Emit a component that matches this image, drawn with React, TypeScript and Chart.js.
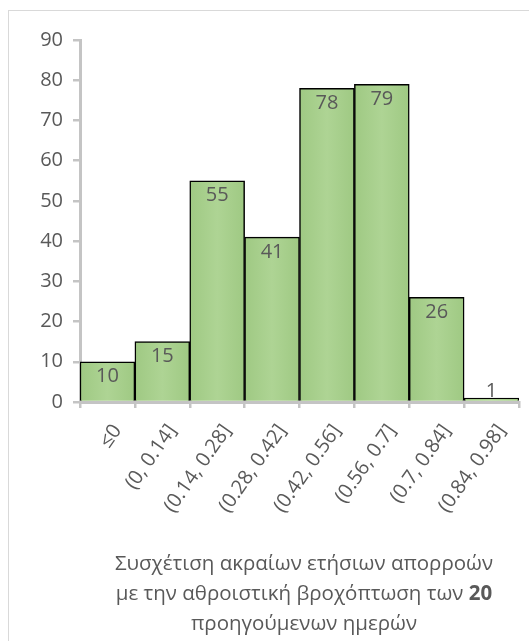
import React, { useEffect, useRef } from "react";
import { Chart, registerables } from "chart.js";

Chart.register(...registerables);

// Histogram classes of the correlation coefficient
const categories = [
  "≤0",
  "(0, 0.14]",
  "(0.14, 0.28]",
  "(0.28, 0.42]",
  "(0.42, 0.56]",
  "(0.56, 0.7]",
  "(0.7, 0.84]",
  "(0.84, 0.98]",
];

// Number of cases in each class
const counts = [10, 15, 55, 41, 78, 79, 26, 1];

const yMin = 0;
const yMax = 90;
const yStep = 10;

const FONT = "'Open Sans', 'Noto Sans', sans-serif";
const TEXT = "#595959";
const AXIS = "#c4c4c4";

// Value printed at the inside top of each bar
const valueLabels = {
  id: "valueLabels",
  afterDatasetsDraw(chart: Chart) {
    const ctx = chart.ctx;
    const meta = chart.getDatasetMeta(0);
    const base = chart.scales.y.getPixelForValue(0);
    ctx.save();
    ctx.font = `20px ${FONT}`;
    ctx.fillStyle = TEXT;
    ctx.textAlign = "center";
    ctx.textBaseline = "middle";
    meta.data.forEach((el: any, i: number) => {
      const y = Math.min(el.y + 15, base - 11);
      ctx.fillText(String(counts[i]), el.x, y);
    });
    ctx.restore();
  },
};

function barFill(c: any) {
  const chart = c.chart;
  const xs = chart.scales?.x;
  if (!xs || c.dataIndex === undefined) return "#a9d18e";
  const w = xs.width / categories.length;
  const cx = xs.getPixelForValue(c.dataIndex);
  if (!Number.isFinite(cx) || !Number.isFinite(w) || w <= 0) return "#a9d18e";
  const g = chart.ctx.createLinearGradient(cx - w / 2, 0, cx + w / 2, 0);
  g.addColorStop(0, "#9fc983");
  g.addColorStop(0.5, "#aed494");
  g.addColorStop(1, "#9fc983");
  return g;
}

export default function App() {
  const ref = useRef<HTMLCanvasElement>(null);

  useEffect(() => {
    if (!ref.current) return;
    const chart = new Chart(ref.current, {
      type: "bar",
      data: {
        labels: categories,
        datasets: [
          {
            data: counts,
            backgroundColor: barFill,
            borderColor: "#000000",
            borderWidth: 1.5,
            borderSkipped: "bottom",
            barPercentage: 1,
            categoryPercentage: 1,
          },
        ],
      },
      options: {
        animation: false,
        responsive: false,
        devicePixelRatio: 1,
        layout: { padding: { top: 40, right: 10, left: 0, bottom: 0 } },
        plugins: {
          legend: { display: false },
          tooltip: { enabled: false },
          title: { display: false },
        },
        scales: {
          x: {
            offset: true,
            grid: {
              offset: true,
              drawOnChartArea: false,
              drawTicks: true,
              tickLength: 6,
              color: AXIS,
              lineWidth: 2.5,
            },
            border: { display: true, color: AXIS, width: 3 },
            ticks: {
              color: TEXT,
              font: { family: FONT, size: 20 },
              minRotation: 55,
              maxRotation: 55,
              padding: 12,
              labelOffset: 10,
              autoSkip: false,
            },
            afterFit(s: any) {
              s.height = 239;
            },
          },
          y: {
            min: yMin,
            max: yMax,
            ticks: {
              stepSize: yStep,
              color: TEXT,
              font: { family: FONT, size: 20 },
              padding: 10,
            },
            grid: {
              drawOnChartArea: false,
              drawTicks: true,
              tickLength: 7,
              color: AXIS,
              lineWidth: 2.5,
            },
            border: { display: true, color: AXIS, width: 3 },
            afterFit(s: any) {
              s.width = 80;
            },
          },
        },
      },
      plugins: [valueLabels],
    });
    return () => chart.destroy();
  }, []);

  const titleStyle: React.CSSProperties = {
    position: "absolute",
    left: 54,
    width: 500,
    textAlign: "center",
    fontFamily: FONT,
    fontSize: 20.5,
    lineHeight: "30px",
    color: TEXT,
    whiteSpace: "nowrap",
  };

  return (
    <div
      style={{
        position: "absolute",
        left: 0,
        top: 0,
        width: 529,
        height: 641,
        overflow: "hidden",
        background: "#ffffff",
      }}
    >
      <div
        style={{
          position: "absolute",
          left: 8,
          top: 10,
          width: 560,
          height: 700,
          border: "1px solid #d9d9d9",
          boxSizing: "border-box",
        }}
      />
      <canvas
        ref={ref}
        width={529}
        height={641}
        style={{ position: "absolute", left: 0, top: 0, width: 529, height: 641 }}
      />
      <div style={{ ...titleStyle, top: 547 }}>
        <div>Συσχέτιση ακραίων ετήσιων απορροών</div>
        <div>
          με την αθροιστική βροχόπτωση των <b>20</b>
        </div>
        <div>προηγούμενων ημερών</div>
      </div>
    </div>
  );
}
